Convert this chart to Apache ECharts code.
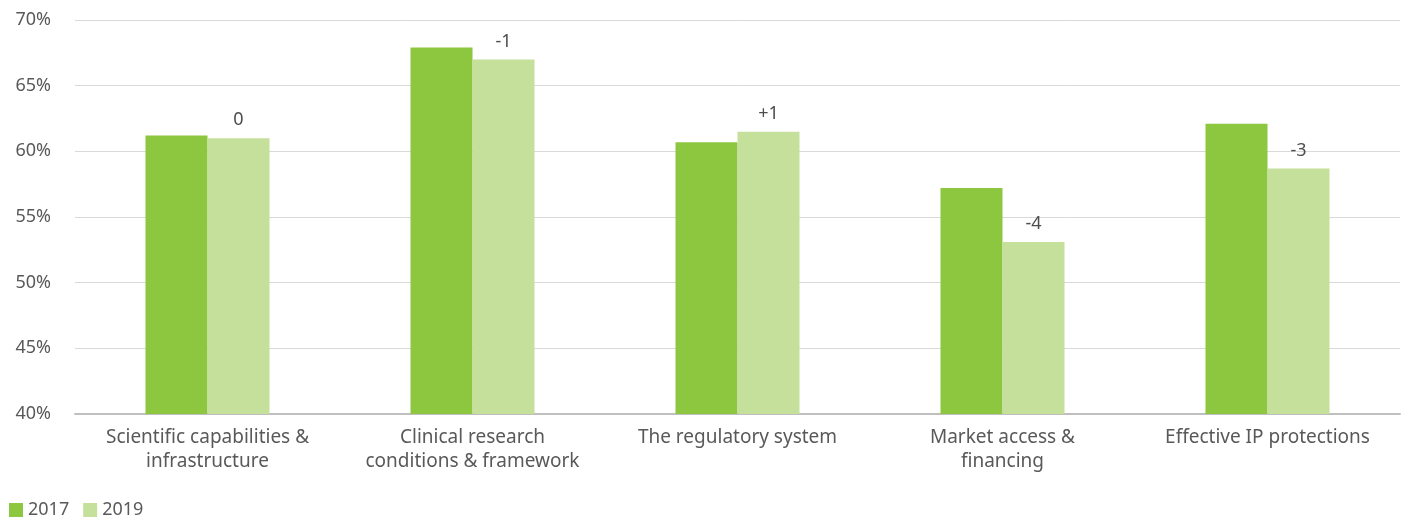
<!DOCTYPE html>
<html><head><meta charset="utf-8">
<script src="https://cdn.jsdelivr.net/npm/echarts@6/dist/echarts.min.js"></script>
<style>html,body{margin:0;padding:0;background:#fff}#c{width:1405px;height:518px}</style>
</head><body><div id="c"></div>
<script>
const categories = ["Scientific capabilities &\ninfrastructure", "Clinical research\nconditions & framework", "The regulatory system", "Market access &\nfinancing", "Effective IP protections"];
const values2017 = [61.2, 67.9, 60.7, 57.2, 62.1];
const values2019 = [61.0, 67.0, 61.5, 53.1, 58.7];
const changeLabels = ["0", "-1", "+1", "-4", "-3"];
const yTicks = {min: 40, max: 70, interval: 5};

const chart = echarts.init(document.getElementById('c'));
const font = '"Noto Sans", sans-serif';
chart.setOption({
  animation: false,
  textStyle: {fontFamily: font},
  grid: {left: 75, right: 5, top: 20, bottom: 104, containLabel: false},
  legend: {
    left: 4, top: 496, itemWidth: 14, itemHeight: 14, itemGap: 14,
    icon: 'rect',
    textStyle: {fontSize: 18, color: '#595959', fontFamily: font},
    data: ['2017', '2019']
  },
  xAxis: {
    type: 'category', data: categories,
    axisLine: {lineStyle: {color: '#BFBFBF', width: 2}},
    axisTick: {show: false},
    axisLabel: {fontSize: 19, color: '#595959', lineHeight: 24, margin: 12, interval: 0}
  },
  yAxis: {
    type: 'value', min: yTicks.min, max: yTicks.max, interval: yTicks.interval,
    axisLine: {show: false}, axisTick: {show: false},
    axisLabel: {fontSize: 18, color: '#595959', margin: 24, formatter: v => v + '%'},
    splitLine: {lineStyle: {color: '#D9D9D9', width: 1}}
  },
  series: [
    {name: '2017', type: 'bar', data: values2017, barWidth: 62, barGap: '0%',
     itemStyle: {color: '#8DC63F'}},
    {name: '2019', type: 'bar', data: values2019, barWidth: 62, barGap: '0%',
     itemStyle: {color: '#C5E09B'},
     label: {show: true, position: 'top', distance: 9, fontSize: 18, color: '#4D4D4D',
       formatter: p => changeLabels[p.dataIndex]}}
  ]
});
</script></body></html>
